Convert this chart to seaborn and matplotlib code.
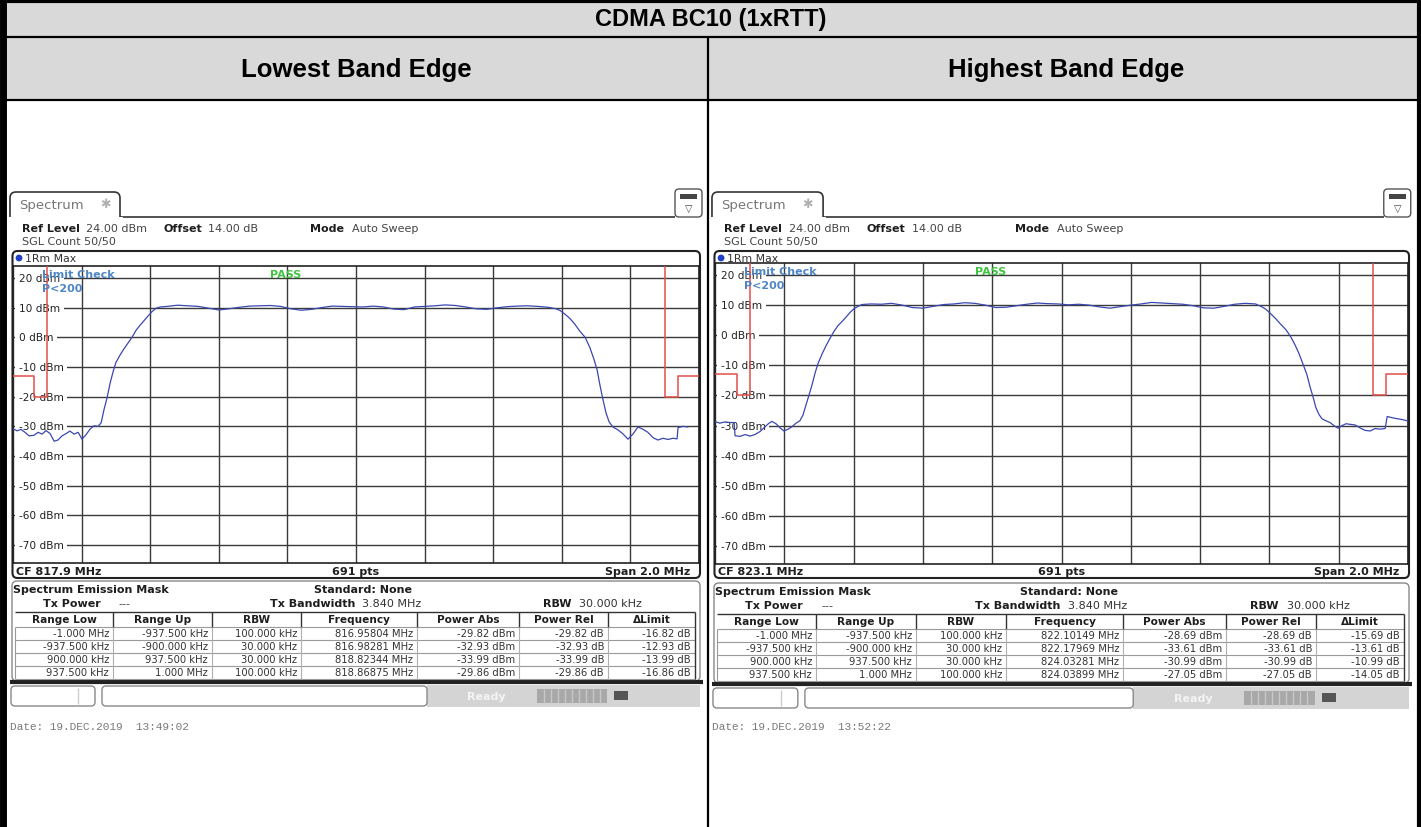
import numpy as np
import pandas as pd
import seaborn as sns
import matplotlib.pyplot as plt
from matplotlib.patches import Rectangle, FancyBboxPatch, Circle
from matplotlib.transforms import blended_transform_factory

W, H = 1421, 828

title = "CDMA BC10 (1xRTT)"
col_titles = ["Lowest Band Edge", "Highest Band Edge"]

# analyzer settings
center_freq = [817.9, 823.1]
span = 2.0
ref_level = 24.0
offset_db = 14.0
db_ticks = [20, 10, 0, -10, -20, -30, -40, -50, -60, -70]
dates = ["19.DEC.2019  13:49:02", "19.DEC.2019  13:52:22"]

# emission mask limit (offset from CF in MHz, dBm)
mask_low_f = [-1.0, -0.9375, -0.9375, -0.9, -0.9]
mask_low_db = [-13, -13, -20, -20, 24]
mask_high_f = [0.9, 0.9, 0.9375, 0.9375, 1.0]
mask_high_db = [24, -20, -20, -13, -13]

# max-hold trace, lowest band edge (offset MHz, dBm)
low_f = [-1.000, -0.988, -0.977, -0.965, -0.953, -0.939, -0.927, -0.915, -0.904, -0.892,
         -0.880, -0.869, -0.857, -0.845, -0.834, -0.822, -0.810, -0.799, -0.787, -0.776,
         -0.764, -0.752, -0.743, -0.735, -0.726, -0.717, -0.708, -0.700, -0.688, -0.676,
         -0.665, -0.653, -0.641, -0.630, -0.618, -0.606, -0.595, -0.583, -0.571,
         -0.55, -0.52, -0.49, -0.46, -0.43, -0.40, -0.37, -0.34, -0.31, -0.28, -0.25,
         -0.22, -0.19, -0.16, -0.13, -0.10, -0.07, -0.04, -0.01, 0.02, 0.05, 0.08,
         0.11, 0.14, 0.17, 0.20, 0.23, 0.26, 0.29, 0.32, 0.35, 0.38, 0.41, 0.44,
         0.47, 0.50, 0.53, 0.56,
         0.583, 0.595, 0.609, 0.624, 0.638, 0.653, 0.668, 0.682, 0.694, 0.703,
         0.711, 0.720, 0.729, 0.738, 0.749, 0.764, 0.778, 0.793, 0.808, 0.822,
         0.837, 0.851, 0.866, 0.880, 0.895, 0.910, 0.924, 0.936, 0.939, 0.953, 0.968]
low_db = [-30.8, -31.5, -31.0, -32.0, -33.2, -33.0, -32.0, -32.6, -31.4, -32.4,
          -35.0, -34.6, -33.2, -32.4, -31.6, -32.6, -32.0, -34.3, -32.8, -31.0,
          -29.8, -30.0, -28.8, -24.5, -20.5, -15.5, -11.5, -8.5, -6.0, -3.8,
          -2.0, 0.0, 2.4, 4.0, 5.6, 7.2, 8.6, 9.8, 10.2,
          10.4, 10.8, 10.6, 10.4, 9.8, 9.2, 9.6, 10.1, 10.5, 10.6, 10.7,
          10.4, 9.6, 9.1, 9.4, 10.0, 10.5, 10.4, 10.3, 10.2, 10.5, 10.2,
          9.5, 9.3, 10.2, 10.4, 10.6, 10.9, 10.7, 10.2, 9.6, 9.4, 9.9, 10.3,
          10.5, 10.6, 10.4, 10.1,
          9.6, 9.0, 7.8, 6.3, 4.4, 2.0, 0.0, -3.5, -7.5, -11.0,
          -16.0, -21.0, -25.5, -28.5, -30.2, -31.2, -32.5, -34.3, -32.5, -30.2,
          -31.0, -32.0, -33.8, -34.6, -34.0, -34.4, -34.0, -34.2, -30.4, -30.0, -30.2]

# max-hold trace, highest band edge (offset MHz, dBm)
high_f = [-1.000, -0.986, -0.971, -0.957, -0.945, -0.942, -0.928, -0.913, -0.899, -0.885,
          -0.870, -0.859, -0.847, -0.836, -0.824, -0.812, -0.801, -0.789, -0.778, -0.766,
          -0.755, -0.746, -0.737, -0.729, -0.720, -0.711, -0.703, -0.691, -0.680, -0.668,
          -0.657, -0.645, -0.633, -0.622, -0.610, -0.599, -0.587, -0.576,
          -0.55, -0.52, -0.49, -0.46, -0.43, -0.40, -0.37, -0.34, -0.31, -0.28, -0.25,
          -0.22, -0.19, -0.16, -0.13, -0.10, -0.07, -0.04, -0.01, 0.02, 0.05, 0.08,
          0.11, 0.14, 0.17, 0.20, 0.23, 0.26, 0.29, 0.32, 0.35, 0.38, 0.41, 0.44,
          0.47, 0.50, 0.53, 0.56,
          0.579, 0.590, 0.605, 0.619, 0.633, 0.648, 0.662, 0.674, 0.685, 0.697,
          0.708, 0.717, 0.726, 0.734, 0.743, 0.752, 0.763, 0.775, 0.786, 0.798,
          0.810, 0.821, 0.833, 0.847, 0.862, 0.876, 0.891, 0.905, 0.919, 0.934,
          0.940, 0.962, 0.983, 1.000]
high_db = [-28.7, -29.2, -28.8, -29.0, -29.0, -33.4, -33.6, -33.0, -33.5, -33.0,
           -32.0, -30.8, -29.5, -28.6, -29.4, -30.8, -31.8, -31.2, -30.4, -29.2,
           -28.4, -26.5, -23.0, -20.0, -16.5, -12.5, -9.5, -6.2, -3.6, -1.0,
           1.2, 3.2, 4.6, 6.0, 7.6, 8.8, 9.6, 10.2,
           10.4, 10.3, 10.6, 10.0, 9.2, 9.0, 9.6, 10.2, 10.4, 10.8, 10.6,
           10.0, 9.2, 9.3, 9.8, 10.3, 10.7, 10.5, 10.4, 10.1, 10.3, 10.0,
           9.4, 9.0, 9.5, 10.0, 10.4, 10.9, 10.7, 10.5, 10.3, 9.8, 9.1, 9.0,
           9.6, 10.3, 10.6, 10.4,
           9.4, 8.6, 7.0, 5.4, 3.6, 1.8, -0.6, -3.2, -6.0, -9.6,
           -13.0, -17.0, -20.5, -24.0, -26.3, -27.8, -28.4, -29.0, -30.0, -30.9,
           -30.0, -29.4, -29.6, -29.8, -30.8, -31.6, -31.8, -31.0, -31.2, -31.0,
           -27.0, -27.6, -28.0, -28.5]

traces = [(low_f, low_db), (high_f, high_db)]

# emission mask result table
table_cols = ["Range Low", "Range Up", "RBW", "Frequency", "Power Abs", "Power Rel", "\u0394Limit"]
range_low = ["-1.000 MHz", "-937.500 kHz", "900.000 kHz", "937.500 kHz"]
range_up = ["-937.500 kHz", "-900.000 kHz", "937.500 kHz", "1.000 MHz"]
rbw = ["100.000 kHz", "30.000 kHz", "30.000 kHz", "100.000 kHz"]
peak_freq = [[816.95804, 816.98281, 818.82344, 818.86875],
             [822.10149, 822.17969, 824.03281, 824.03899]]
power_abs = [[-29.82, -32.93, -33.99, -29.86],
             [-28.69, -33.61, -30.99, -27.05]]
delta_limit = [[-16.82, -12.93, -13.99, -16.86],
               [-15.69, -13.61, -10.99, -14.05]]

sns.set_style("white")
plt.rcParams["font.family"] = ["DejaVu Sans"]

fig = plt.figure(figsize=(W / 100, H / 100), dpi=100)
cv = fig.add_axes([0, 0, 1, 1])
cv.set_xlim(0, W)
cv.set_ylim(H, 0)
cv.axis("off")


def txt(x, y, s, size=8, bold=False, color="#1e1e1e", ha="left", family="DejaVu Sans", **kw):
    cv.text(x, y, s, fontsize=size, fontweight="bold" if bold else "normal", color=color,
            ha=ha, va="center", family=family, **kw)


# outer document table
cv.add_patch(Rectangle((0, 0), W, 100, fc="#d9d9d9", ec="none"))
cv.hlines([1.5], 0, W, color="black", lw=3)
cv.hlines([37.5, 100.5], 0, W, color="black", lw=1.6)
cv.vlines([2.5], 0, H, color="black", lw=5)
cv.vlines([1418.5], 0, H, color="black", lw=3)
cv.vlines([707.5], 37.5, H, color="black", lw=1.6)
txt(W / 2, 19.5, title, size=17, bold=True, color="black", ha="center", family="Liberation Sans")
txt(356, 69.5, col_titles[0], size=18.5, bold=True, color="black", ha="center", family="Liberation Sans")
txt(1066, 69.5, col_titles[1], size=18.5, bold=True, color="black", ha="center", family="Liberation Sans")

panels = [dict(gx0=13, gx1=699, gy0=267, gy1=564, dy=0),
          dict(gx0=715, gx1=1408, gy0=264, gy1=565, dy=2)]

for k, p in enumerate(panels):
    gx0, gx1, gy0, gy1, dy = p["gx0"], p["gx1"], p["gy0"], p["gy1"], p["dy"]
    s = (gx1 - gx0) / 686.0

    def X(x):
        return gx0 + (x - 13) * s

    cf = center_freq[k]

    # tab and header
    cv.add_patch(FancyBboxPatch((X(10), 193), X(120) - X(10), 34,
                                boxstyle="round,pad=0,rounding_size=6", fc="white", ec="#333333", lw=1.2))
    cv.add_patch(Rectangle((X(8), 218), X(123) - X(8), 16, fc="white", ec="none", zorder=3))
    cv.hlines([217.5], X(120), X(675), color="#333333", lw=1.2)
    txt(X(19), 206, "Spectrum", size=9.5, color="#777777")
    txt(X(105), 205, "\u2731", size=9, color="#b0b0b0", ha="center")
    cv.add_patch(FancyBboxPatch((X(675), 190), 27, 28, boxstyle="round,pad=0,rounding_size=4",
                                fc="white", ec="#555555", lw=1))
    cv.add_patch(Rectangle((X(680), 195), 17, 5, fc="#444444", ec="none"))
    txt(X(675) + 13.5, 209, "\u25bd", size=7, color="#444444", ha="center")

    txt(X(22), 229, "Ref Level", bold=True)
    txt(X(86), 229, f"{ref_level:.2f} dBm", color="#444444")
    txt(X(163), 229, "Offset", bold=True)
    txt(X(208), 229, f"{offset_db:.2f} dB", color="#444444")
    txt(X(310), 229, "Mode", bold=True)
    txt(X(352), 229, "Auto Sweep", color="#444444")
    txt(X(22), 242, "SGL Count 50/50", color="#444444")

    # graph box
    cv.add_patch(FancyBboxPatch((X(12.5), 252), X(700) - X(12.5), 327,
                                boxstyle="round,pad=0,rounding_size=5", fc="white", ec="#222222", lw=1.5))
    cv.add_patch(Circle((X(19), 259), 3.4, fc="#1f3fc4", ec="none"))
    txt(X(25), 259, "1Rm Max", size=7.8, color="#333333")
    txt(X(16), 572, f"CF {cf} MHz", size=8, bold=True)
    txt((X(13) + X(699)) / 2, 572, "691 pts", size=8, bold=True, ha="center")
    txt(X(690), 572, f"Span {span} MHz", size=8, bold=True, ha="right")

    ax = fig.add_axes([gx0 / W, 1 - gy1 / H, (gx1 - gx0) / W, (gy1 - gy0) / H])
    ax.set_xlim(cf - span / 2, cf + span / 2)
    ax.set_ylim(ref_level - 100, ref_level)
    ax.set_xticks(np.linspace(cf - span / 2, cf + span / 2, 11))
    ax.set_yticks(db_ticks)
    ax.tick_params(length=0, labelbottom=False, labelleft=False)
    ax.set_axisbelow(True)
    ax.grid(True, color="#3a3a3a", lw=1)
    for sp in ax.spines.values():
        sp.set_color("#222222")
        sp.set_linewidth(1.2)
    blend = blended_transform_factory(ax.transAxes, ax.transData)
    for d in db_ticks:
        ax.text(0.0085, d, f"{d} dBm", transform=blend, fontsize=7.6, va="center", ha="left",
                color="#222222", zorder=2, bbox=dict(fc="white", ec="none", pad=2.6))

    mask = pd.DataFrame({"f": np.array(mask_low_f + [np.nan] + mask_high_f) + cf,
                         "db": mask_low_db + [np.nan] + mask_high_db})
    ax.plot(mask["f"], mask["db"], color="#e0504a", lw=1.1, zorder=3)

    f_off, db = traces[k]
    tr = pd.DataFrame({"f": np.array(f_off) + cf, "db": db})
    sns.lineplot(data=tr, x="f", y="db", ax=ax, color="#3b47b0", lw=0.9, sort=False,
                 estimator=None, zorder=4)
    ax.set_xlabel("")
    ax.set_ylabel("")

    ax.text(0.042, 0.973, "Limit Check", transform=ax.transAxes, color="#4f86c6",
            fontweight="bold", fontsize=8, va="center", zorder=5)
    ax.text(0.042, 0.926, "P<200", transform=ax.transAxes, color="#4f86c6",
            fontweight="bold", fontsize=8, va="center", zorder=5)
    ax.text(0.375, 0.973, "PASS", transform=ax.transAxes, color="#3fc43f",
            fontweight="bold", fontsize=8, va="center", zorder=5)

    # emission mask box
    cv.add_patch(FancyBboxPatch((X(12), 582 + dy), X(700) - X(12), 100,
                                boxstyle="round,pad=0,rounding_size=5", fc="white", ec="#888888", lw=1))
    cv.hlines([683 + dy], X(10), X(703), color="#222222", lw=3)
    txt(X(13), 590 + dy, "Spectrum Emission Mask", size=8, bold=True)
    txt(X(363), 590 + dy, "Standard: None", size=8, bold=True, ha="center")
    txt(X(43), 604 + dy, "Tx Power", size=8, bold=True)
    txt(X(118), 604 + dy, "---", size=8, color="#444444")
    txt(X(270), 604 + dy, "Tx Bandwidth", size=8, bold=True)
    txt(X(362), 604 + dy, "3.840 MHz", size=8, color="#333333")
    txt(X(543), 604 + dy, "RBW", size=8, bold=True)
    txt(X(579), 604 + dy, "30.000 kHz", size=8, color="#333333")

    edges = [X(e) for e in [15, 113, 212, 301, 417, 519, 608, 695]]
    top, hb = 613 + dy, 628 + dy
    rows_y = [hb + 13 * i for i in range(5)]
    cv.hlines([top], edges[0], edges[-1], color="#333333", lw=1)
    cv.hlines(rows_y, edges[0], edges[-1], color="#9a9a9a", lw=0.8)
    cv.vlines(edges[1:-1], top, hb, color="#333333", lw=1)
    cv.vlines(edges[1:-1], hb, rows_y[-1], color="#b0b0b0", lw=0.8)
    cv.vlines([edges[0]], hb, rows_y[-1], color="#9a9a9a", lw=0.8)
    cv.vlines([edges[-1]], top, rows_y[-1], color="#333333", lw=1)
    for c, name in enumerate(table_cols):
        txt((edges[c] + edges[c + 1]) / 2, (top + hb) / 2, name, size=7.6, bold=True, ha="center")
    for r in range(4):
        cells = [range_low[r], range_up[r], rbw[r], f"{peak_freq[k][r]:.5f} MHz",
                 f"{power_abs[k][r]:.2f} dBm", f"{power_abs[k][r]:.2f} dB", f"{delta_limit[k][r]:.2f} dB"]
        yc = rows_y[r] + 6.5
        for c, val in enumerate(cells):
            txt(edges[c + 1] - 4, yc, val, size=7.2, color="#333333", ha="right")

    # status bar
    cv.add_patch(Rectangle((X(427), 686 + dy), X(700) - X(427), 22, fc="#d4d4d4", ec="none"))
    cv.add_patch(FancyBboxPatch((X(11), 687 + dy), X(95) - X(11), 20,
                                boxstyle="round,pad=0,rounding_size=4", fc="white", ec="#888888", lw=1))
    cv.vlines([X(78)], 689 + dy, 705 + dy, color="#cccccc", lw=1)
    cv.add_patch(FancyBboxPatch((X(102), 687 + dy), X(427) - X(102), 20,
                                boxstyle="round,pad=0,rounding_size=4", fc="white", ec="#888888", lw=1))
    txt(X(467), 697 + dy, "Ready", size=8, bold=True, color="#f4f4f4")
    cv.add_patch(Rectangle((X(537), 690 + dy), X(607) - X(537), 14, fc="#a8a8a8", ec="none"))
    cv.vlines([X(537) + 7 * i for i in range(1, 10)], 690 + dy, 704 + dy, color="#c8c8c8", lw=1)
    cv.add_patch(Rectangle((X(614), 692 + dy), 14, 9, fc="#555555", ec="none"))

    txt(X(10), 727, "Date: " + dates[k], size=8, color="#7a7a7a", family="Liberation Mono")

fig.savefig("out.png", dpi=100)
